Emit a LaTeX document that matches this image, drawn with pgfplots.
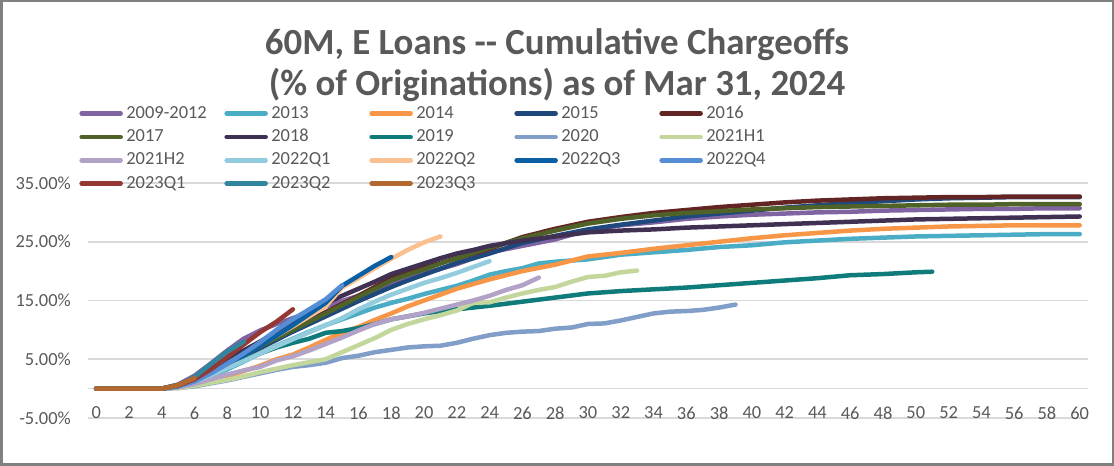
\documentclass[border=0pt]{standalone}
\usepackage{fontspec}
\setmainfont{Carlito}
\usepackage{pgfplots}
\pgfplotsset{compat=1.18}
\definecolor{labelgray}{HTML}{595959}
\definecolor{gridgray}{HTML}{D9D9D9}
\definecolor{framegray}{HTML}{808080}
\definecolor{cA}{HTML}{8064A2}
\definecolor{cB}{HTML}{4BACC6}
\definecolor{cC}{HTML}{F79646}
\definecolor{cD}{HTML}{1F497D}
\definecolor{cE}{HTML}{632523}
\definecolor{cF}{HTML}{4F6228}
\definecolor{cG}{HTML}{403152}
\definecolor{cH}{HTML}{0F7B7A}
\definecolor{cI}{HTML}{809EC8}
\definecolor{cJ}{HTML}{C3D69B}
\definecolor{cK}{HTML}{B3A2C7}
\definecolor{cL}{HTML}{93CDDD}
\definecolor{cM}{HTML}{FAC090}
\definecolor{cN}{HTML}{0B5FA5}
\definecolor{cO}{HTML}{558ED5}
\definecolor{cP}{HTML}{953735}
\definecolor{cQ}{HTML}{31859C}
\definecolor{cR}{HTML}{B2682E}
\newcommand\lgd[1]{\makebox[98bp][l]{#1}}
\begin{document}
\begin{tikzpicture}
\useasboundingbox (0,0) rectangle (1114bp,466bp);
\draw[framegray, line width=2.5bp] (1.25bp,1.25bp) rectangle (1112.75bp,464.75bp);
\node[font=\fontsize{37}{40}\selectfont\bfseries, text=labelgray, inner sep=0pt] at (557bp,421bp) {60M, E Loans -{}- Cumulative Chargeoffs};
\node[font=\fontsize{37}{40}\selectfont\bfseries, text=labelgray, inner sep=0pt] at (557bp,381bp) {(\% of Originations) as of Mar 31, 2024};
\begin{axis}[
  at={(88bp,48bp)}, anchor=south west,
  scale only axis, width=1000bp, height=235bp,
  xmin=-0.5, xmax=60.5, ymin=-5, ymax=35,
  xtick={0,2,...,60}, ytick={-5,5,15,25,35},
  yticklabels={-5.00\%,5.00\%,15.00\%,25.00\%,35.00\%},
  extra y ticks={0}, extra y tick labels={},
  extra y tick style={grid=major},
  ymajorgrids, grid style={draw=gridgray, line width=1.5bp},
  axis line style={draw=none}, major tick length=0pt,
  tick label style={font=\fontsize{18.5}{20}\selectfont, text=labelgray},
  /pgf/number format/assume math mode=true,
  xticklabel style={anchor=center, yshift=5bp},
  yticklabel style={anchor=east, inner sep=0pt, xshift=-17bp},
  every axis plot/.append style={line width=4.5bp, line join=round, line cap=round, mark=none},
  legend columns=5,
  legend cell align=left,
  legend style={at={(axis description cs:-0.0088,1.332)}, anchor=north west,
    draw=none, fill=none, inner sep=0pt, column sep=0pt, row sep=6.3bp,
    font=\fontsize{18.5}{20}\selectfont, text=labelgray,
    nodes={inner sep=0pt, text height=13bp, text depth=4bp},
    /tikz/every odd column/.append style={column sep=3.5bp}},
  legend image code/.code={\draw[#1] (0bp,0bp) -- (39bp,0bp);},
]
\addplot[cA] coordinates {(0,0)(1,0)(2,0)(3,0)(4,0)(5,0.7)(6,2.2)(7,4.3)(8,6.5)(9,8.5)(10,9.9)(11,11.0)(12,12.0)(13,13.0)(14,14.0)(15,14.9)(16,15.8)(17,16.8)(18,17.8)(19,18.7)(20,19.6)(21,20.4)(22,21.2)(23,22.2)(24,23.2)(26,24.3)(28,25.4)(30,27.0)(32,27.8)(34,28.3)(36,28.9)(38,29.3)(40,29.6)(42,29.8)(44,30.0)(46,30.1)(48,30.3)(50,30.4)(52,30.5)(54,30.6)(56,30.6)(58,30.7)(60,30.7)};
\addlegendentry{\lgd{2009-2012}}
\addplot[cB] coordinates {(0,0)(1,0)(2,0)(3,0)(4,0)(5,0.3)(6,1.0)(7,2.0)(8,3.3)(9,4.6)(10,6.0)(11,7.3)(12,8.5)(13,9.7)(14,10.8)(15,11.8)(16,12.8)(17,13.8)(18,14.6)(19,15.3)(20,16.1)(21,16.8)(22,17.5)(23,18.4)(24,19.4)(25,20.0)(26,20.5)(27,21.3)(28,21.6)(30,22.0)(32,22.8)(34,23.2)(36,23.6)(38,24.1)(40,24.4)(42,24.9)(44,25.2)(46,25.5)(48,25.7)(50,25.9)(52,26.0)(54,26.1)(56,26.2)(58,26.3)(60,26.3)};
\addlegendentry{\lgd{2013}}
\addplot[cC] coordinates {(0,0)(1,0)(2,0)(3,0)(4,0)(5,0.2)(6,0.6)(7,1.3)(8,2.1)(9,3.0)(10,3.9)(11,5.0)(12,5.8)(13,7.0)(14,8.3)(15,9.5)(16,10.5)(17,11.7)(18,12.8)(19,14.0)(20,15.0)(21,16.0)(22,17.0)(23,17.8)(24,18.6)(26,20.0)(28,21.1)(30,22.5)(32,23.1)(34,23.8)(36,24.4)(38,25.0)(40,25.6)(42,26.1)(44,26.5)(46,26.9)(48,27.2)(50,27.4)(52,27.6)(54,27.7)(56,27.8)(58,27.8)(60,27.8)};
\addlegendentry{\lgd{2014}}
\addplot[cD] coordinates {(0,0)(1,0)(2,0)(3,0)(4,0)(5,0.5)(6,1.6)(7,2.9)(8,4.2)(9,5.5)(10,6.9)(11,8.3)(12,9.7)(13,11.0)(14,12.3)(15,13.6)(16,14.9)(17,16.1)(18,17.3)(19,18.4)(20,19.4)(21,20.4)(22,21.4)(23,22.2)(24,23.0)(26,24.8)(28,26.0)(30,27.1)(32,27.9)(34,28.6)(36,29.3)(38,29.8)(40,30.3)(42,30.8)(44,31.2)(46,31.6)(48,31.9)(50,32.2)(52,32.4)(54,32.5)(56,32.6)(58,32.6)(60,32.6)};
\addlegendentry{\lgd{2015}}
\addplot[cE] coordinates {(0,0)(1,0)(2,0)(3,0)(4,0)(5,0.5)(6,1.7)(7,3.1)(8,4.5)(9,5.9)(10,7.3)(11,8.7)(12,10.2)(13,11.6)(14,13.0)(15,14.4)(16,15.8)(17,17.3)(18,18.8)(19,19.7)(20,20.6)(21,21.4)(22,22.2)(23,23.0)(24,23.8)(26,25.8)(28,27.2)(30,28.4)(32,29.2)(34,29.9)(36,30.4)(38,30.9)(40,31.3)(42,31.7)(44,32.0)(46,32.2)(48,32.4)(50,32.5)(52,32.6)(54,32.6)(56,32.7)(58,32.7)(60,32.7)};
\addlegendentry{\lgd{2016}}
\addplot[cF] coordinates {(0,0)(1,0)(2,0)(3,0)(4,0)(5,0.5)(6,1.7)(7,3.0)(8,4.4)(9,5.8)(10,7.2)(11,8.6)(12,10.0)(13,11.4)(14,12.8)(15,14.2)(16,15.6)(17,17.0)(18,18.4)(19,19.4)(20,20.3)(21,21.3)(22,22.2)(23,23.1)(24,24.0)(26,25.6)(28,26.9)(30,28.1)(32,28.9)(34,29.5)(36,29.9)(38,30.2)(40,30.5)(42,30.7)(44,30.9)(46,31.0)(48,31.1)(50,31.2)(52,31.3)(54,31.3)(56,31.4)(58,31.4)(60,31.4)};
\addlegendentry{\lgd{2017}}
\addplot[cG] coordinates {(0,0)(1,0)(2,0)(3,0)(4,0)(5,0.6)(6,1.9)(7,3.4)(8,5.0)(9,6.5)(10,8.0)(11,9.7)(12,11.5)(13,13.0)(14,14.5)(15,15.8)(16,17.0)(17,18.2)(18,19.5)(19,20.4)(20,21.3)(21,22.2)(22,23.0)(23,23.6)(24,24.3)(26,25.2)(28,25.9)(30,26.6)(32,26.9)(34,27.1)(36,27.4)(38,27.6)(40,27.8)(42,28.0)(44,28.2)(46,28.4)(48,28.6)(50,28.8)(52,28.9)(54,29.0)(56,29.1)(58,29.2)(60,29.3)};
\addlegendentry{\lgd{2018}}
\addplot[cH] coordinates {(0,0)(1,0)(2,0)(3,0)(4,0)(5,0.4)(6,1.5)(7,2.8)(8,4.0)(9,5.0)(10,6.0)(11,7.0)(12,7.8)(13,8.5)(14,9.5)(15,9.8)(16,10.3)(17,11.0)(18,11.8)(19,12.3)(20,12.8)(21,13.2)(22,13.5)(23,13.8)(24,14.1)(26,14.8)(28,15.5)(30,16.2)(32,16.6)(34,16.9)(36,17.2)(38,17.6)(40,18.0)(42,18.4)(44,18.8)(46,19.3)(48,19.5)(50,19.8)(51,19.9)};
\addlegendentry{\lgd{2019}}
\addplot[cI] coordinates {(0,0)(1,0)(2,0)(3,0)(4,0)(5,0.1)(6,0.4)(7,0.9)(8,1.4)(9,2.0)(10,2.6)(11,3.2)(12,3.7)(13,4.0)(14,4.4)(15,5.2)(16,5.6)(17,6.2)(18,6.6)(19,7.0)(20,7.2)(21,7.3)(22,7.8)(23,8.5)(24,9.1)(25,9.5)(26,9.7)(27,9.8)(28,10.2)(29,10.4)(30,11.0)(31,11.1)(32,11.6)(33,12.2)(34,12.8)(35,13.1)(36,13.2)(37,13.4)(38,13.8)(39,14.3)};
\addlegendentry{\lgd{2020}}
\addplot[cJ] coordinates {(0,0)(1,0)(2,0)(3,0)(4,0)(5,0.1)(6,0.5)(7,1.0)(8,1.5)(9,2.1)(10,2.8)(11,3.4)(12,4.0)(13,4.5)(14,5.0)(15,6.2)(16,7.4)(17,8.6)(18,10.0)(19,11.0)(20,11.8)(21,12.5)(22,13.3)(23,14.6)(24,14.7)(25,15.5)(26,16.2)(27,16.8)(28,17.3)(29,18.2)(30,19.0)(31,19.2)(32,19.8)(33,20.1)};
\addlegendentry{\lgd{2021H1}}
\addplot[cK] coordinates {(0,0)(1,0)(2,0)(3,0)(4,0)(5,0.2)(6,0.8)(7,1.6)(8,2.4)(9,3.1)(10,3.7)(11,4.8)(12,5.5)(13,6.5)(14,7.6)(15,8.7)(16,9.9)(17,11.0)(18,11.8)(19,12.3)(20,12.9)(21,13.6)(22,14.3)(23,15.0)(24,15.8)(25,16.8)(26,17.6)(27,18.9)};
\addlegendentry{\lgd{2021H2}}
\addplot[cL] coordinates {(0,0)(1,0)(2,0)(3,0)(4,0)(5,0.3)(6,1.2)(7,2.3)(8,3.5)(9,4.7)(10,6.0)(11,7.2)(12,8.4)(13,9.6)(14,10.8)(15,12.0)(16,13.5)(17,14.8)(18,16.0)(19,17.0)(20,18.0)(21,18.8)(22,19.7)(23,20.7)(24,21.7)};
\addlegendentry{\lgd{2022Q1}}
\addplot[cM] coordinates {(0,0)(1,0)(2,0)(3,0)(4,0)(5,0.4)(6,1.5)(7,2.9)(8,4.3)(9,5.8)(10,7.4)(11,9.0)(12,10.6)(13,12.3)(14,14.0)(15,17.2)(16,18.8)(17,20.5)(18,22.1)(19,23.6)(20,24.9)(21,25.9)};
\addlegendentry{\lgd{2022Q2}}
\addplot[cN] coordinates {(0,0)(1,0)(2,0)(3,0)(4,0)(5,0.4)(6,1.5)(7,2.9)(8,4.3)(9,5.7)(10,7.3)(11,9.0)(12,10.8)(13,12.7)(14,14.6)(15,17.5)(16,19.2)(17,20.9)(18,22.4)};
\addlegendentry{\lgd{2022Q3}}
\addplot[cO] coordinates {(0,0)(1,0)(2,0)(3,0)(4,0)(5,0.4)(6,1.2)(7,2.6)(8,4.2)(9,6.0)(10,7.9)(11,10.0)(12,11.8)(13,13.5)(14,15.2)(15,17.6)};
\addlegendentry{\lgd{2022Q4}}
\addplot[cP] coordinates {(0,0)(1,0)(2,0)(3,0)(4,0)(5,0.5)(6,1.6)(7,3.3)(8,5.4)(9,7.5)(10,9.6)(11,11.4)(12,13.5)};
\addlegendentry{\lgd{2023Q1}}
\addplot[cQ] coordinates {(0,0)(1,0)(2,0)(3,0)(4,0)(5,0.6)(6,2.0)(7,4.2)(8,6.3)(9,8.0)};
\addlegendentry{\lgd{2023Q2}}
\addplot[cR] coordinates {(0,0)(1,0)(2,0)(3,0)(4,0)(5,0.6)(6,1.8)};
\addlegendentry{\lgd{2023Q3}}
\end{axis}
\end{tikzpicture}
\end{document}
